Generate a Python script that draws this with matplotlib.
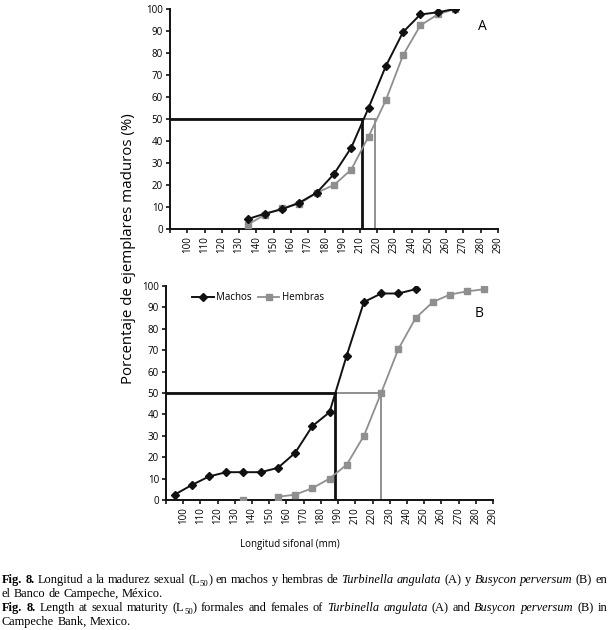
import numpy as np
import matplotlib.pyplot as plt

# etiquetas del eje x (la serie de Excel salta el 200)
x_labels = ['100', '110', '120', '130', '140', '150', '160', '170', '180', '190',
            '210', '220', '230', '240', '250', '260', '270', '280', '290']
x_ticks = np.arange(90, 290, 10)  # posicion lineal de cada marca

# A: Turbinella angulata
a_x = [135, 145, 155, 165, 175, 185, 195, 205, 215, 225, 235, 245, 255]
a_machos = [4.5, 7, 9, 12, 16.5, 25, 37, 55, 74, 89.5, 97.5, 98.5, 100]
a_hembras = [2, 6.5, 9.5, 11.5, 16.5, 20, 27, 42, 58.5, 79, 92.5, 97.5, 100]
a_l50 = [201.5, 209]  # machos, hembras

# B: Busycon perversum
b_x_machos = [95, 105, 115, 125, 135, 145, 155, 165, 175, 185, 195, 205, 215, 225, 235]
b_machos = [2.5, 7, 11, 13, 13, 13, 15, 22, 34.5, 41, 67.5, 92.5, 96.5, 96.5, 98.5]
b_x_hembras = [135, 145, 155, 165, 175, 185, 195, 205, 215, 225, 235, 245, 255, 265, 275]
b_hembras = [0, np.nan, 1.5, 2.5, 5.5, 10, 16.5, 30, 50, 70.5, 85, 92.5, 96, 97.5, 98.5]
b_l50 = [188.3, 215]

NEGRO = '#111111'
GRIS = '#8f8f8f'
SANS = ['Open Sans', 'DejaVu Sans']
SERIF = ['Liberation Serif', 'DejaVu Serif']

W, H = 615, 630
fig = plt.figure(figsize=(W / 100, H / 100), dpi=100)


def panel(rect, xm, ym, xh, yh, l50, letra, letra_xy, leyenda=False):
    ax = fig.add_axes(rect)
    ax.plot(xh, yh, color=GRIS, lw=1.3, marker='s', ms=5, label='Hembras', zorder=3)
    ax.plot(xm, ym, color=NEGRO, lw=1.4, marker='D', ms=4, label='Machos', zorder=4)
    # lineas de L50
    ax.plot([90, l50[1]], [50, 50], color=GRIS, lw=1.4, zorder=2)
    ax.plot([l50[1], l50[1]], [0, 50], color=GRIS, lw=1.4, zorder=2)
    ax.plot([90, l50[0]], [50, 50], color=NEGRO, lw=2, zorder=2.5)
    ax.plot([l50[0], l50[0]], [0, 50], color=NEGRO, lw=2, zorder=2.5)
    ax.set_xlim(90, 280)
    ax.set_ylim(0, 100)
    ax.set_xticks(x_ticks)
    ax.set_xticklabels([''] + x_labels, rotation=90, fontsize=7, family=SANS)
    ax.set_yticks(range(0, 101, 10))
    ax.set_yticklabels([str(v) for v in range(0, 101, 10)], fontsize=7, family=SANS)
    ax.tick_params(axis='both', length=3, width=1.2, color=NEGRO, pad=2)
    for s in ['top', 'right']:
        ax.spines[s].set_visible(False)
    for s in ['left', 'bottom']:
        ax.spines[s].set_linewidth(1.4)
        ax.spines[s].set_color(NEGRO)
    ax.text(letra_xy[0], letra_xy[1], letra, fontsize=10, family=SANS, ha='center', va='center')
    if leyenda:
        h, l = ax.get_legend_handles_labels()
        ax.legend(h[::-1], l[::-1], ncol=2, frameon=False, loc='center left',
                  bbox_to_anchor=(0.08, 0.945), prop={'family': SANS, 'size': 7},
                  handlelength=2.2, handletextpad=0.3, columnspacing=0.6,
                  borderpad=0, borderaxespad=0)
    return ax


panel([170 / W, 1 - 229 / H, 328 / W, 220 / H], a_x, a_machos, a_x, a_hembras,
      a_l50, 'A', (271, 92))
panel([166 / W, 1 - 500 / H, 327 / W, 214 / H], b_x_machos, b_machos, b_x_hembras,
      b_hembras, b_l50, 'B', (272, 87), leyenda=True)

fig.text(128 / W, 1 - 249 / H, 'Porcentaje de ejemplares maduros (%)', rotation=90,
         ha='center', va='center', fontsize=10.8, family=SANS)
fig.text(290 / W, 1 - 545 / H, 'Longitud sifonal (mm)', ha='center', va='center',
         fontsize=7, family=SANS)

# pie de figura, justificado como en el articulo
caption = [
    ([[('Fig.', 'b')], [('8.', 'b')], [('Longitud', 'n')], [('a', 'n')], [('la', 'n')],
      [('madurez', 'n')], [('sexual', 'n')], [('(L', 'n'), ('50', 's'), (')', 'n')],
      [('en', 'n')], [('machos', 'n')], [('y', 'n')], [('hembras', 'n')], [('de', 'n')],
      [('Turbinella', 'i')], [('angulata', 'i')], [('(A)', 'n')], [('y', 'n')],
      [('Busycon', 'i')], [('perversum', 'i')], [('(B)', 'n')], [('en', 'n')]], True),
    ([[('el', 'n')], [('Banco', 'n')], [('de', 'n')], [('Campeche,', 'n')],
      [('México.', 'n')]], False),
    ([[('Fig.', 'b')], [('8.', 'b')], [('Length', 'n')], [('at', 'n')], [('sexual', 'n')],
      [('maturity', 'n')], [('(L', 'n'), ('50', 's'), (')', 'n')], [('formales', 'n')],
      [('and', 'n')], [('females', 'n')], [('of', 'n')], [('Turbinella', 'i')],
      [('angulata', 'i')], [('(A)', 'n')], [('and', 'n')], [('Busycon', 'i')],
      [('perversum', 'i')], [('(B)', 'n')], [('in', 'n')]], True),
    ([[('Campeche', 'n')], [('Bank,', 'n')], [('Mexico.', 'n')]], False),
]
baselines = [583, 597, 611, 625]
x0, x1 = 2, 607
fs = 8.9
renderer = fig.canvas.get_renderer()


def texto(s, estilo):
    kw = dict(family=SERIF, fontsize=fs, va='baseline', ha='left')
    if estilo == 'b':
        kw['weight'] = 'bold'
    if estilo == 'i':
        kw['style'] = 'italic'
    if estilo == 's':
        kw['fontsize'] = fs * 0.7
    return fig.text(0, 0, s, **kw)


esp = texto('a a', 'n')
w_aa = esp.get_window_extent(renderer).width
esp.set_text('aa')
w_space = w_aa - esp.get_window_extent(renderer).width
esp.remove()

for (palabras, justificar), yb in zip(caption, baselines):
    objs = []
    anchos = []
    for pal in palabras:
        piezas = []
        w = 0
        for s, e in pal:
            t = texto(s, e)
            piezas.append((t, w, e))
            w += t.get_window_extent(renderer).width
        objs.append(piezas)
        anchos.append(w)
    if justificar:
        gap = (x1 - x0 - sum(anchos)) / (len(anchos) - 1)
    else:
        gap = w_space
    x = x0
    for piezas, w in zip(objs, anchos):
        for t, dx, e in piezas:
            y = yb + (2.5 if e == 's' else 0)
            t.set_position(((x + dx) / W, 1 - y / H))
        x += w + gap

fig.savefig('out.png', dpi=100)
